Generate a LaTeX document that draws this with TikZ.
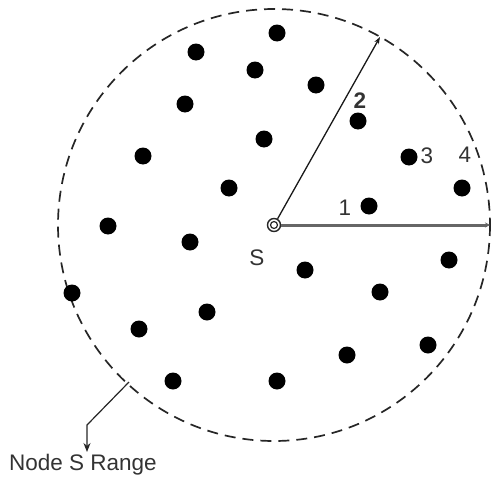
\documentclass[tikz,border=0pt]{standalone}
\usepackage{fontspec}
\setmainfont{Liberation Sans}
\usetikzlibrary{arrows.meta}
\begin{document}
\begin{tikzpicture}[x=1pt,y=-1pt,
  dot/.style={circle,fill=black,inner sep=0pt,minimum size=17pt},
  lbl/.style={font=\fontsize{22.5}{26}\selectfont,text=black!80,inner sep=0pt},
  rangecircle/.style={draw=black!85,line width=1.7pt,dash pattern=on 11pt off 7pt}]
\useasboundingbox (0,0) rectangle (493,479);
\coordinate (c) at (274,225);
\draw[rangecircle] (c) circle[radius=216];
\foreach \x/\y [count=\i] in {277/33,196/52,255/70,316/85,185/104,358/121,143/156,264/139,409/157,462/188,229/188,369/206,108/226,190/242,305/270,449/260,72/293,380/292,207/312,139/329,428/345,347/355,173/381,277/381}
  \node[dot] (d\i) at (\x,\y) {};
\coordinate (e2) at (380,37);
\coordinate (e1) at (490,225);
\node[circle,draw=black!85,line width=1.4pt,inner sep=0pt,minimum size=13pt] (s) at (c) {};
\node[circle,draw=black!85,line width=1.2pt,inner sep=0pt,minimum size=7pt] at (c) {};
\draw[black!60,line width=3pt,-{Stealth[length=5pt,width=5pt]}] (s.east) -- (e1);
\draw[black!90,line width=1.3pt,-{Stealth[length=7pt,width=5pt]}] (s.60) -- (e2);
\node[lbl] (l2) at (360,101) {\textbf{2}};
\node[lbl] (l3) at (427,156) {3};
\node[lbl] (l4) at (465,155) {4};
\node[lbl] (l1) at (345,208) {1};
\node[lbl] (ls) at (257,258) {S};
\coordinate (p) at (129,382);
\coordinate (q) at (87,425);
\node[lbl,anchor=west] (rng) at (9,465) {Node S Range};
\draw[black!85,line width=1.2pt,-{Stealth[length=9pt,width=7pt]}] (p) -- (q) -- (87,452);
\end{tikzpicture}
\end{document}
